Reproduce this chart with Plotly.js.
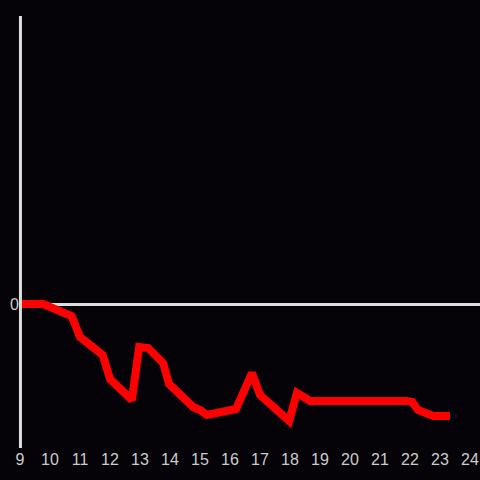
<!DOCTYPE html>
<html>
<head>
<meta charset="utf-8">
<script src="https://cdn.plot.ly/plotly-3.0.1.min.js"></script>
<style>html,body{margin:0;padding:0;background:#050307;}#chart{width:480px;height:480px;}</style>
</head>
<body>
<div id="chart"></div>
<script>
const xValues = [9, 9.77, 10.72, 11.0, 11.76, 12.0, 12.73, 12.97, 13.27, 13.77, 13.97, 14.77, 15.0, 15.23, 16.2, 16.73, 17.0, 17.97, 18.23, 18.67, 21.9, 22.07, 22.27, 22.77, 23.33];
const yValues = [0, 0, -1.2, -3.3, -5.1, -7.5, -9.6, -4.3, -4.4, -5.9, -8.0, -10.3, -10.6, -11.1, -10.5, -6.9, -9.1, -11.7, -8.9, -9.7, -9.7, -9.8, -10.6, -11.2, -11.2];
const xTickVals = [9,10,11,12,13,14,15,16,17,18,19,20,21,22,23,24];
const yTickVals = [0];
const yTickText = ['0'];

const trace = {
  x: xValues, y: yValues, type: 'scatter', mode: 'lines',
  line: {color: '#ff0000', width: 8},
  hoverinfo: 'skip'
};
const layout = {
  width: 480, height: 480,
  paper_bgcolor: '#050307', plot_bgcolor: '#050307',
  margin: {l: 20, r: 0, t: 16, b: 32},
  showlegend: false,
  font: {family: 'Liberation Sans, Arial, sans-serif', size: 16, color: '#cccccc'},
  xaxis: {
    range: [9, 24.333], tickvals: xTickVals, showgrid: false, zeroline: false,
    showline: false, ticks: '', tickfont: {size: 16, color: '#cccccc'}
  },
  yaxis: {
    range: [-14.4, 28.8], tickvals: yTickVals, ticktext: yTickText, showgrid: false,
    zeroline: true, zerolinecolor: '#dddddd', zerolinewidth: 3,
    showline: false, ticks: '',
    tickfont: {size: 16, color: '#cccccc'}
  },
  shapes: [{
    type: 'line', xref: 'paper', yref: 'paper', x0: 0.001, x1: 0.001, y0: 0, y1: 1,
    line: {color: '#dddddd', width: 3}, layer: 'above'
  }]
};
Plotly.newPlot('chart', [trace], layout, {displayModeBar: false, staticPlot: true});
</script>
</body>
</html>
